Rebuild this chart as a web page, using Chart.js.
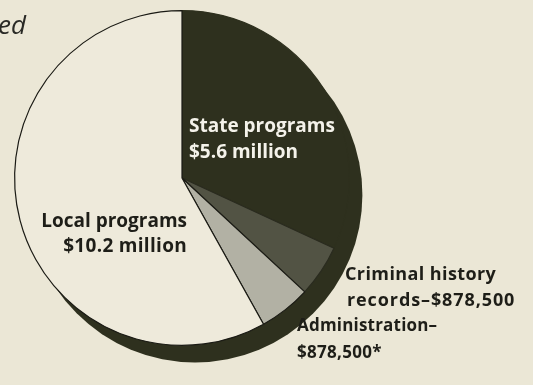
<!DOCTYPE html>
<html>
<head>
<meta charset="utf-8">
<script src="https://cdn.jsdelivr.net/npm/chart.js@4/dist/chart.umd.min.js"></script>
<style>
  html, body { margin: 0; padding: 0; background: #ebe7d6; }
  #wrap { position: relative; width: 533px; height: 385px; overflow: hidden; background: #ebe7d6; }
  canvas { position: absolute; left: 0; top: 0; }
  .lbl { position: absolute; font-family: "Open Sans", sans-serif; font-weight: 700; white-space: nowrap; }
  .dark { color: #1e1e18; }
  .light { color: #f4f2ea; }
</style>
</head>
<body>
<div id="wrap">
  <canvas id="c" width="533" height="385"></canvas>
  <div class="lbl dark" style="left:-2px; top:6px; font-size:26px; font-weight:400; font-style:italic; color:#2a2a26;">ed</div>
  <div class="lbl light" style="left:189px; top:112px; font-size:19px; line-height:26px;">State programs<br>$5.6 million</div>
  <div class="lbl dark" style="right:346px; top:208px; font-size:19px; line-height:25px; text-align:right;">Local programs<br><span style="letter-spacing:0.3px">$10.2 million</span></div>
  <div class="lbl dark" style="left:345px; top:260px; font-size:18px; line-height:26px;"><span style="letter-spacing:0.4px">Criminal history</span><br><span style="margin-left:2px; letter-spacing:0.9px">records–$878,500</span></div>
  <div class="lbl dark" style="left:297px; top:311px; font-size:17px; line-height:27px;"><span style="letter-spacing:0.2px">Administration–</span><br><span style="letter-spacing:0.3px">$878,500*</span></div>
</div>
<script>
const categories = ["State programs", "Criminal history records", "Administration", "Local programs"];
const valuesMillions = [5.6, 0.8785, 0.8785, 10.2];
const sliceColors = ["#2e301e", "#525344", "#b2b1a4", "#eeeadb"];
const sliceBorders = ["#2e301e", "#2a2b1f", "#1a1a14", "#1a1a14"];

const shadowPlugin = {
  id: "pieShadow",
  beforeDatasetsDraw(chart) {
    const arc = chart.getDatasetMeta(0).data[0];
    if (!arc) return;
    const ctx = chart.ctx;
    ctx.save();
    ctx.fillStyle = "#2e301e";
    ctx.beginPath();
    ctx.arc(arc.x + 13, arc.y + 17, arc.outerRadius, 0, Math.PI * 2);
    ctx.fill();
    ctx.restore();
  }
};

new Chart(document.getElementById("c"), {
  type: "pie",
  data: {
    labels: categories,
    datasets: [{
      data: valuesMillions,
      backgroundColor: sliceColors,
      borderColor: sliceBorders,
      borderWidth: 1.2
    }]
  },
  options: {
    responsive: false,
    animation: false,
    layout: { padding: { left: 14, top: 10, right: 183, bottom: 39 } },
    plugins: { legend: { display: false }, tooltip: { enabled: false } }
  },
  plugins: [shadowPlugin]
});
</script>
</body>
</html>
